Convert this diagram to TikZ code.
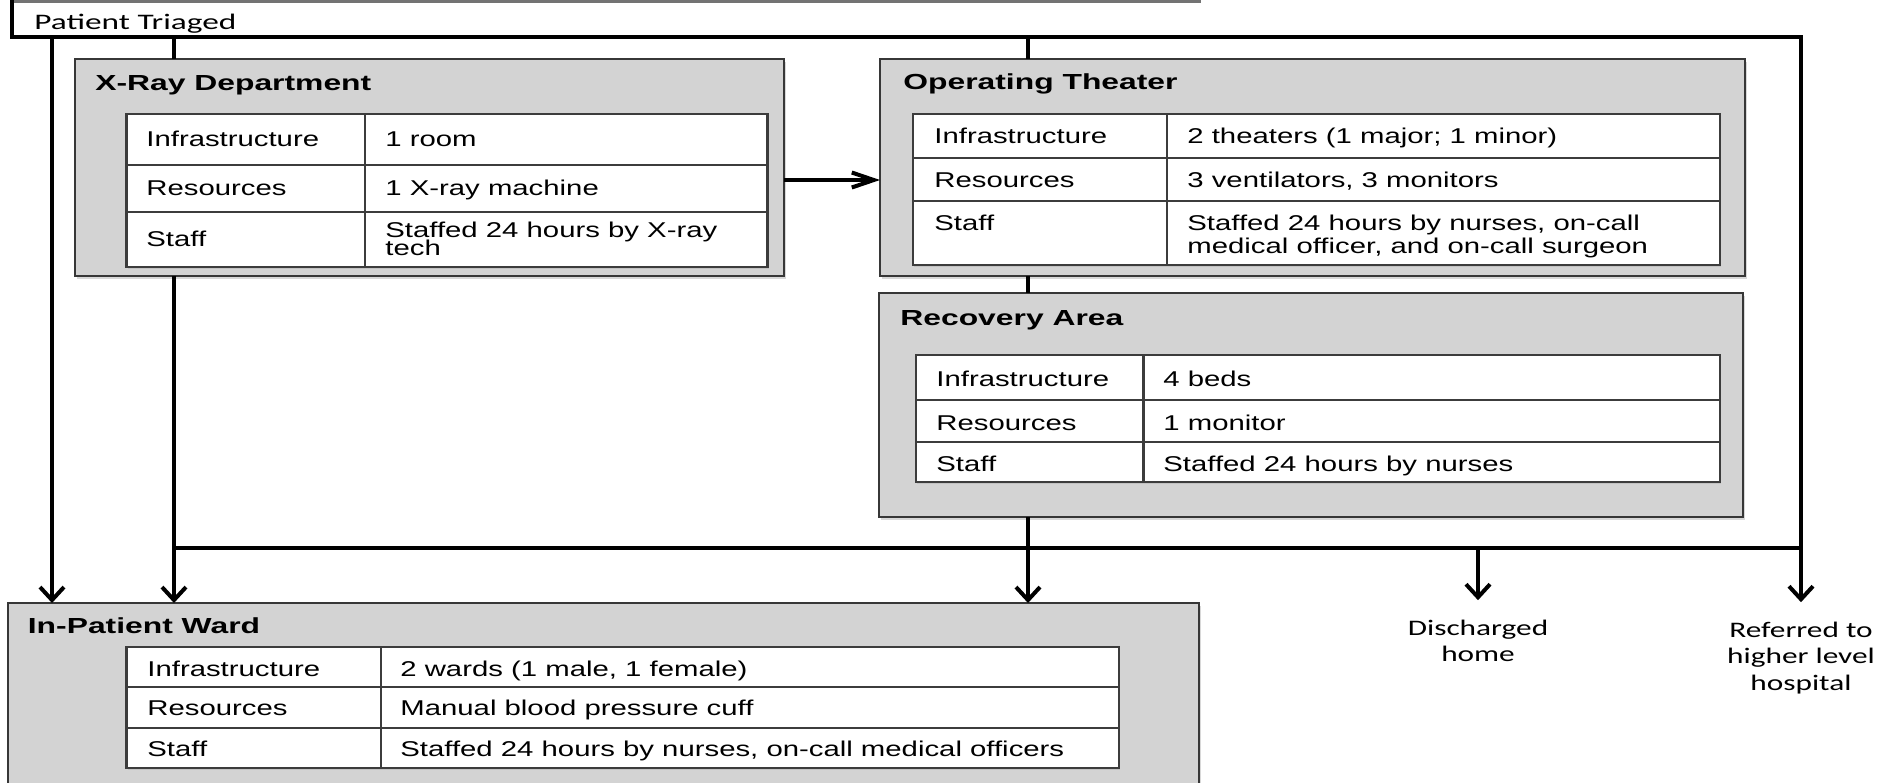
\documentclass[tikz,border=0pt]{standalone}
\usepackage{fontspec}
\usetikzlibrary{arrows.meta,fit,shadows}

% wide-set faces used throughout the chart
\newfontfamily\tabfont[FakeStretch=1.37]{Liberation Sans}
\newfontfamily\ttlfont[FakeStretch=1.46]{Liberation Sans}
\newfontfamily\calfont[FakeStretch=1.41]{Carlito}
\newfontfamily\calwide[FakeStretch=1.5]{Carlito}

\definecolor{panel}{RGB}{211,211,211}
\definecolor{edge}{RGB}{55,55,55}
\definecolor{grid}{RGB}{60,60,60}

% lines stacked under a first baseline
\newcommand\stacklines[3]{\vtop{\baselineskip=#1\lineskiplimit=-50pt\lineskip=0pt\hbox{#2}\hbox{#3}}}
\newcommand\centerlines[2]{\vtop{\baselineskip=#1\lineskiplimit=-50pt\lineskip=0pt\halign{\hfil##\hfil\cr#2\crcr}}}

\begin{document}
\begin{tikzpicture}[x=0.5pt,y=-0.5pt,
  panelbox/.style={draw=edge, line width=1.3pt, fill=panel, inner sep=0pt, outer sep=0pt,
    drop shadow={shadow xshift=1pt, shadow yshift=-1.5pt, opacity=0.3}},
  tablebox/.style={draw=grid, line width=1.1pt, fill=white, inner sep=0pt, outer sep=0pt,
    drop shadow={shadow xshift=0.6pt, shadow yshift=-0.8pt, opacity=0.2}},
  gridline/.style={draw=grid, line width=1.1pt},
  cell/.style={inner sep=0pt, anchor=base west, font=\tabfont\fontsize{10.7}{12}\selectfont},
  heading/.style={inner sep=0pt, anchor=base west, font=\ttlfont\bfseries\fontsize{10.9}{13}\selectfont},
  note/.style={inner sep=0pt, font=\calfont\fontsize{11.1}{13}\selectfont},
  conn/.style={line width=2pt, draw=black},
  downarrow/.style={conn, -{Straight Barb[length=6.5pt, width=12pt]}},
  rightarrow/.style={conn, -{Straight Barb[length=11pt, width=7.5pt]}},
]
\useasboundingbox (0,0) rectangle (1889,782);
\clip (0,0) rectangle (1889,782);
\fill[white] (0,0) rectangle (1889,782);

% edge of the element above
\draw[draw=black!55, line width=1.2pt] (10,1.5) -- (1201,1.5);

% ---------- panels ----------
\node[panelbox, fit={(75,59) (784,276)}] (xray) {};
\node[panelbox, fit={(880,59) (1745,276)}] (ot) {};
\node[panelbox, fit={(879,293) (1743,517)}] (rec) {};
\node[panelbox, fit={(8,603) (1199,830)}] (ward) {};

% ---------- X-ray department ----------
\node[heading] (xrayTitle) at (95,90) {X-Ray Department};
\node[tablebox, fit={(126.5,114) (767.5,267)}] (xrayTab) {};
\draw[gridline] (365,114) -- (365,267);
\draw[gridline] (126.5,165) -- (767.5,165);
\draw[gridline] (126.5,212) -- (767.5,212);
\node[cell] (xrayInfK) at (146,146) {Infrastructure};
\node[cell] (xrayInfV) at (385,146) {1 room};
\node[cell] (xrayResK) at (146,195) {Resources};
\node[cell] (xrayResV) at (385,195) {1 X-ray machine};
\node[cell] (xrayStfK) at (146,246) {Staff};
\node[cell] (xrayStfV) at (385,237) {\stacklines{9pt}{Staffed 24 hours by X-ray}{tech}};

% ---------- operating theater ----------
\node[heading] (otTitle) at (903,89) {Operating Theater};
\node[tablebox, fit={(913,114) (1720,265)}] (otTab) {};
\draw[gridline] (1167,114) -- (1167,265);
\draw[gridline] (913,158) -- (1720,158);
\draw[gridline] (913,201) -- (1720,201);
\node[cell] (otInfK) at (934,143) {Infrastructure};
\node[cell] (otInfV) at (1187,143) {2 theaters (1 major; 1 minor)};
\node[cell] (otResK) at (934,187) {Resources};
\node[cell] (otResV) at (1187,187) {3 ventilators, 3 monitors};
\node[cell] (otStfK) at (934,230) {Staff};
\node[cell] (otStfV) at (1187,230) {\stacklines{11.75pt}{Staffed 24 hours by nurses, on-call}{medical officer, and on-call surgeon}};

% ---------- recovery area ----------
\node[heading] (recTitle) at (900,325) {Recovery Area};
\node[tablebox, fit={(916,355) (1720,482)}] (recTab) {};
\draw[gridline] (1143.5,355) -- (1143.5,482);
\draw[gridline] (916,400) -- (1720,400);
\draw[gridline] (916,442) -- (1720,442);
\node[cell] (recInfK) at (936,386) {Infrastructure};
\node[cell] (recInfV) at (1163,386) {4 beds};
\node[cell] (recResK) at (936,430) {Resources};
\node[cell] (recResV) at (1163,430) {1 monitor};
\node[cell] (recStfK) at (936,471) {Staff};
\node[cell] (recStfV) at (1163,471) {Staffed 24 hours by nurses};

% ---------- in-patient ward ----------
\node[heading] (wardTitle) at (27.5,633) {In-Patient Ward};
\node[tablebox, fit={(126.5,647) (1119,768)}] (wardTab) {};
\draw[gridline] (381,647) -- (381,768);
\draw[gridline] (126.5,687) -- (1119,687);
\draw[gridline] (126.5,728) -- (1119,728);
\node[cell] (wardInfK) at (147,676) {Infrastructure};
\node[cell] (wardInfV) at (400,676) {2 wards (1 male, 1 female)};
\node[cell] (wardResK) at (147,715) {Resources};
\node[cell] (wardResV) at (400,715) {Manual blood pressure cuff};
\node[cell] (wardStfK) at (147,756) {Staff};
\node[cell] (wardStfV) at (400,756) {Staffed 24 hours by nurses, on-call medical officers};

% ---------- free labels ----------
\node[note, anchor=base west, font=\calwide\fontsize{11.1}{13}\selectfont] (triage) at (34,29) {Patient Triaged};
\node[note, anchor=base] (home) at (1478,635) {\centerlines{13pt}{Discharged\cr home}};
\node[note, anchor=base] (higher) at (1801,637) {\centerlines{13.3pt}{Referred to\cr higher level\cr hospital}};

% ---------- routing ----------
\coordinate (origin) at (12,0);
\coordinate (trunk) at (1801,37);
\coordinate (laneA) at (52,0);
\coordinate (laneB) at (174,0);
\coordinate (laneC) at (1028,0);
\coordinate (bus) at (0,548);
\coordinate (feed) at (0,180);

\draw[downarrow, shorten >=9.5pt] (origin) |- (trunk) -- (higher.north);
\draw[downarrow] (trunk -| laneA) -- (ward.north -| laneA);
\draw[conn] (trunk -| laneB) -- (xray.north -| laneB);
\draw[downarrow] (xray.south -| laneB) -- (ward.north -| laneB);
\draw[conn] (trunk -| laneC) -- (ot.north -| laneC);
\draw[conn] (ot.south -| laneC) -- (rec.north -| laneC);
\draw[downarrow] (rec.south -| laneC) -- (ward.north -| laneC);
\draw[conn] (bus -| laneB) -- (bus -| trunk);
\draw[downarrow, shorten >=9.5pt] (bus -| home.north) -- (home.north);
\draw[rightarrow] (feed -| xray.east) -- (feed -| ot.west);
\end{tikzpicture}
\end{document}
